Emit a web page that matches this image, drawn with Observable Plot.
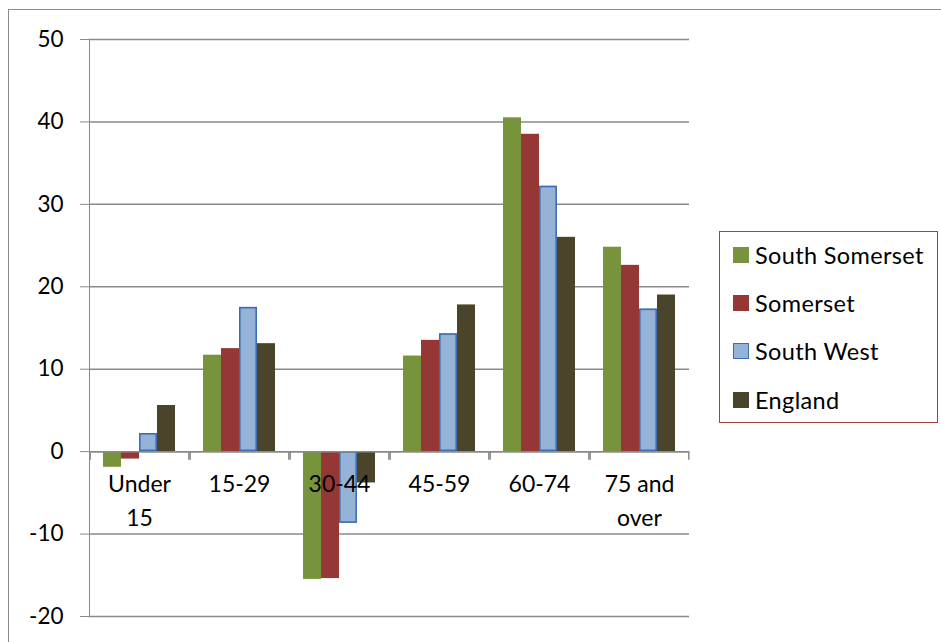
<!DOCTYPE html>
<html>
<head>
<meta charset="utf-8">
<script src="https://cdn.jsdelivr.net/npm/d3@7"></script>
<script src="https://cdn.jsdelivr.net/npm/@observablehq/plot@0.6"></script>
<style>
  html, body { margin: 0; padding: 0; background: #fff; }
  #wrap { position: relative; width: 941px; height: 642px; overflow: hidden; }
  #frame { position: absolute; left: 8px; top: 9px; right: -5px; bottom: -5px;
           border-top: 1.6px solid #8c8c8c; border-left: 1.6px solid #8c8c8c; pointer-events: none; }
  #chart svg text { fill: #000; }
  #legend { position: absolute; left: 719px; top: 231px; width: 217px; height: 190px;
            border: 1.6px solid #a4403e; background: #fff; font-family: Lato, sans-serif; font-size: 23.5px;
            letter-spacing: 0.35px; color: #000; }
  .item { position: absolute; left: 0; height: 30px; display: flex; align-items: center; }
  .sw { width: 16px; height: 16px; margin-left: 13px; margin-right: 6px; box-sizing: border-box; }
</style>
</head>
<body>
<div id="wrap">
  <div id="chart"></div>
  <div id="frame"></div>
  <div id="legend"></div>
</div>
<script>
const categories = ["Under 15", "15-29", "30-44", "45-59", "60-74", "75 and over"];
const categoryLabels = ["Under\n15", "15-29", "30-44", "45-59", "60-74", "75 and\nover"];
const seriesNames = ["South Somerset", "Somerset", "South West", "England"];
const southSomerset = [-1.9, 11.7, -15.5, 11.6, 40.5, 24.8];
const somerset = [-0.9, 12.5, -15.4, 13.5, 38.5, 22.6];
const southWest = [2.2, 17.5, -8.7, 14.3, 32.2, 17.3];
const england = [5.6, 13.1, -3.8, 17.8, 26.0, 19.0];
const seriesColors = ["#77933C", "#953735", "#95B3D7", "#4A452A"];
const yTicks = [-20, -10, 0, 10, 20, 30, 40, 50];

const seriesValues = [southSomerset, somerset, southWest, england];
const rows = categories.flatMap((c, i) =>
  seriesNames.map((s, j) => ({category: c, series: s, value: seriesValues[j][i]})));
const labelRows = categories.map((c, i) => ({category: c, label: categoryLabels[i]}));

const W = 941, H = 642, mL = 87, mR = 251, mT = 39, mB = 26;
const padOuter = 0.7;
const groupWidth = (W - mL - mR) / categories.length;
const step = groupWidth / (seriesNames.length + 2 * padOuter);
const edgeOffset = (padOuter + 0.5) * step;
const gridColor = "#8a8a8a";

const chart = Plot.plot({
  width: W, height: H,
  marginLeft: mL, marginRight: mR, marginTop: mT, marginBottom: mB,
  style: {fontFamily: "Lato, sans-serif", fontSize: "22.5px", color: gridColor, background: "transparent", overflow: "visible"},
  fx: {domain: categories, padding: 0, axis: null, label: null},
  x: {domain: seriesNames, paddingInner: 0, paddingOuter: padOuter, axis: null},
  y: {domain: [-20, 50], ticks: yTicks, tickFormat: d => String(d), tickSize: 9, tickPadding: 17, line: true, label: null},
  color: {domain: seriesNames, range: seriesColors},
  marks: [
    Plot.ruleY(yTicks, {stroke: gridColor, strokeWidth: 1.5}),
    Plot.barY(rows, {fx: "category", x: "series", y: "value", fill: "series"}),
    Plot.barY(rows, {filter: d => d.series === "South West", fx: "category", x: "series", y: "value",
      fill: "none", stroke: "#3E6EAD", strokeWidth: 1.6, inset: 0.8}),
    Plot.ruleY([0], {stroke: gridColor, strokeWidth: 1.5}),
    Plot.ruleX([seriesNames[0]], {y1: () => 0, y2: () => 0, insetBottom: -8.5, dx: -edgeOffset, stroke: gridColor, strokeWidth: 1.5}),
    Plot.ruleX([seriesNames[seriesNames.length - 1]], {y1: () => 0, y2: () => 0, insetBottom: -8.5, dx: edgeOffset, stroke: gridColor, strokeWidth: 1.5}),
    Plot.text(labelRows, {fx: "category", y: () => 0, text: "label", fill: "#000",
      fontSize: 23, lineAnchor: "top", lineHeight: 1.47, dy: 16.5, textAnchor: "middle"})
  ]
});
document.getElementById("chart").appendChild(chart);

const legend = document.getElementById("legend");
const centers = [22.5, 70.5, 119, 167.5];
seriesNames.forEach((s, i) => {
  const item = document.createElement("div");
  item.className = "item";
  item.style.top = (centers[i] - 15) + "px";
  const sw = document.createElement("div");
  sw.className = "sw";
  sw.style.background = seriesColors[i];
  if (s === "South West") sw.style.border = "1.6px solid #3E6EAD";
  const t = document.createElement("span");
  t.textContent = s;
  item.appendChild(sw);
  item.appendChild(t);
  legend.appendChild(item);
});
</script>
</body>
</html>
